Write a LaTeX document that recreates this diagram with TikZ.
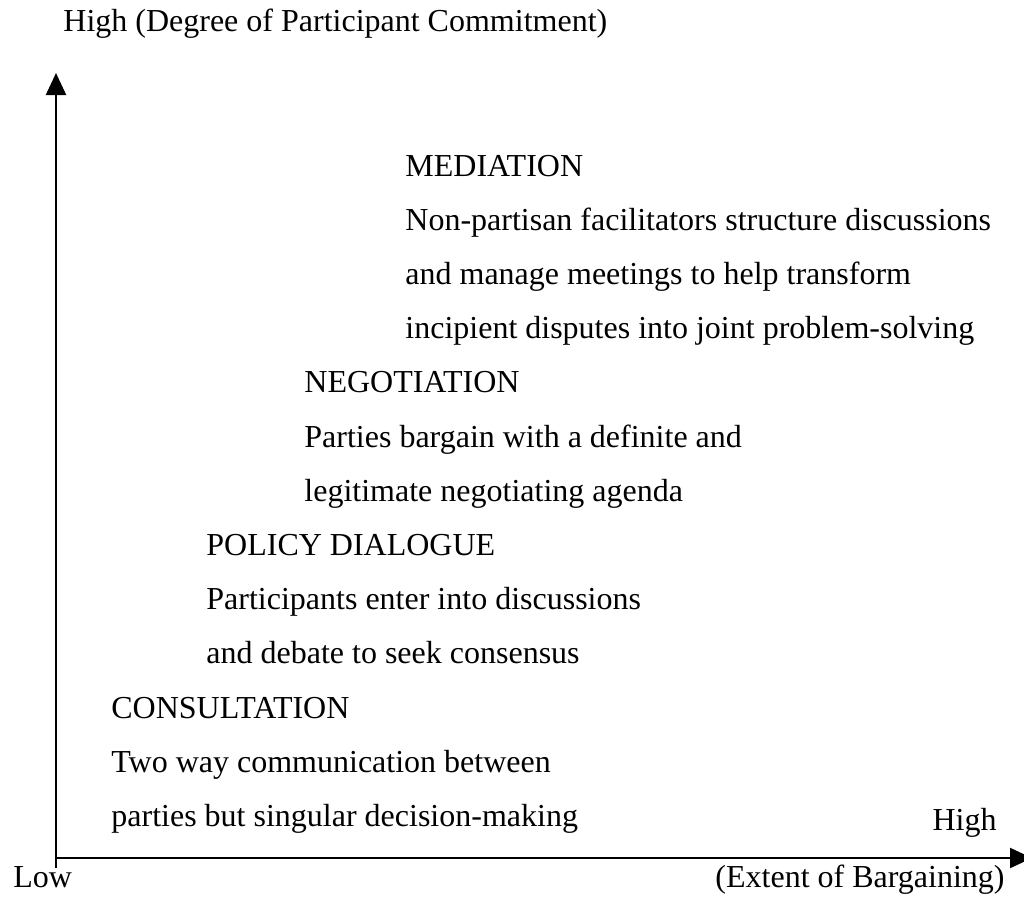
\documentclass[tikz,border=0pt]{standalone}
\usepackage{fontspec}
\setmainfont{Liberation Serif}
\usepackage{tikz}
\usetikzlibrary{arrows.meta}
\tikzstyle{axis} = [line width=1.1pt,-{Triangle[length=11pt,width=10pt]}]
\tikzstyle{lbl} = [inner sep=0pt,anchor=base west,font=\fontsize{16}{19}\selectfont]

\begin{document}
\begin{tikzpicture}[x=0.5pt,y=-0.5pt]
\useasboundingbox (0,0) rectangle (1024,896);
% axes
\coordinate (ybot) at (56,868);
\coordinate (ytop) at (56,73);
\coordinate (xbeg) at (56,858);
\coordinate (xend) at (1032,858);
\draw[axis] (ybot) -- (ytop);
\draw[axis] (xbeg) -- (xend);
% axis labels
\node[lbl] (ytitle) at (63,31) {High (Degree of Participant Commitment)};
\node[lbl] (xlow) at (13,887) {Low};
\node[lbl,anchor=base east] (xhigh) at (997,830) {High};
\node[lbl,anchor=base east] (xtitle) at (1005,887) {(Extent of Bargaining)};
% mediation
\node[lbl] (med) at (405,176) {MEDIATION};
\node[lbl] (meda) at (405,230.2) {Non-partisan facilitators structure discussions};
\node[lbl] (medb) at (405,284.4) {and manage meetings to help transform};
\node[lbl] (medc) at (405,338.6) {incipient disputes into joint problem-solving};
% negotiation
\node[lbl] (neg) at (304,392.8) {NEGOTIATION};
\node[lbl] (nega) at (304,447) {Parties bargain with a definite and};
\node[lbl] (negb) at (304,501.2) {legitimate negotiating agenda};
% policy dialogue
\node[lbl] (pol) at (206,555.4) {POLICY DIALOGUE};
\node[lbl] (pola) at (206,609.6) {Participants enter into discussions};
\node[lbl] (polb) at (206,663.8) {and debate to seek consensus};
% consultation
\node[lbl] (con) at (111,718) {CONSULTATION};
\node[lbl] (cona) at (111,772.2) {Two way communication between};
\node[lbl] (conb) at (111,826.4) {parties but singular decision-making};
\end{tikzpicture}
\end{document}
